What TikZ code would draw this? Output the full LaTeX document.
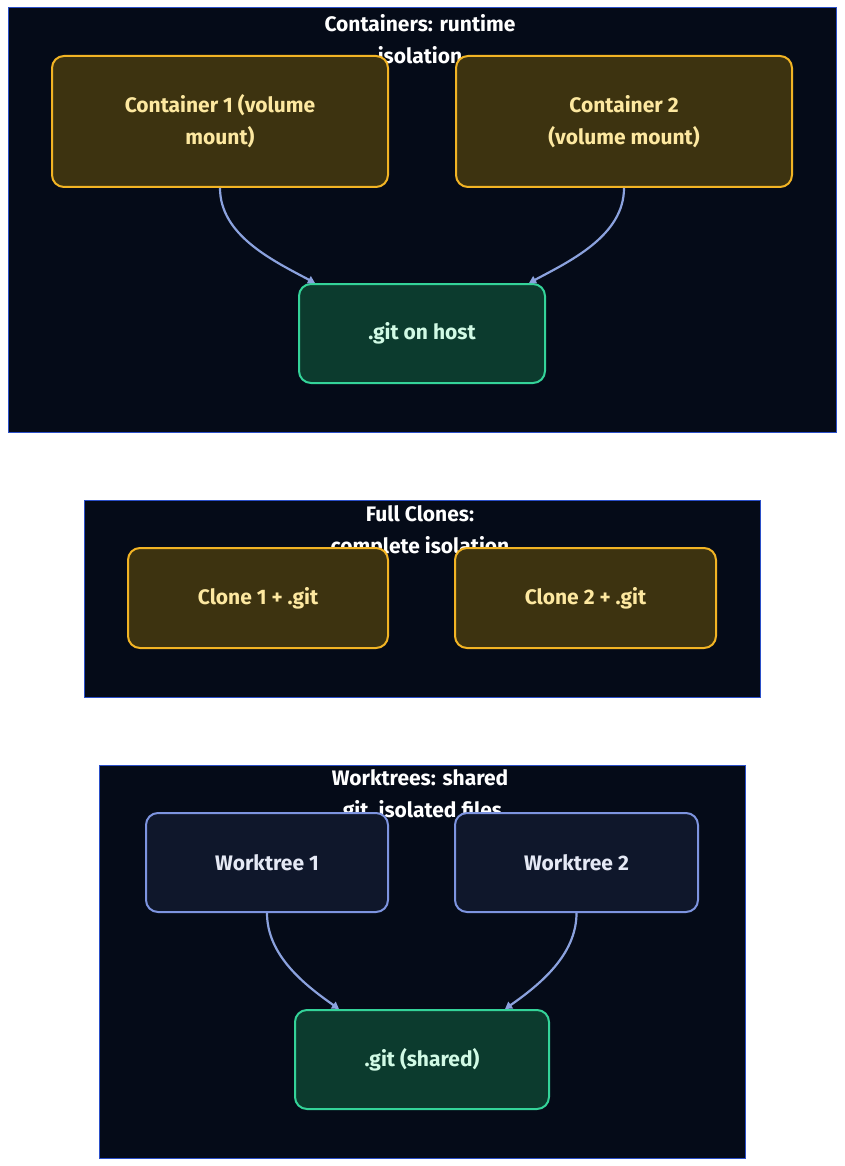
\documentclass[tikz,border=0pt]{standalone}
\usepackage{fontspec}
\setmainfont{Fira Sans}
\usetikzlibrary{arrows.meta}
\definecolor{framebg}{HTML}{050B18}
\definecolor{frameline}{HTML}{2B4FC8}
\definecolor{ctrfill}{HTML}{3D3310}
\definecolor{ctrline}{HTML}{F2B424}
\definecolor{ctrtext}{HTML}{FDE8A0}
\definecolor{gitfill}{HTML}{0C3B2E}
\definecolor{gitline}{HTML}{34D399}
\definecolor{gittext}{HTML}{D1FAE5}
\definecolor{wtfill}{HTML}{0F172B}
\definecolor{wtline}{HTML}{7D94E0}
\definecolor{wttext}{HTML}{E5E9F5}
\definecolor{linkcol}{HTML}{8BA2DE}
\begin{document}
\begin{tikzpicture}[x=1pt,y=-1pt,
  frame/.style = {draw=frameline,fill=framebg,line width=1pt},
  title/.style = {text=white,align=center,font=\bfseries\fontsize{21}{32}\selectfont},
  box/.style = {rounded corners=12pt,line width=2pt,align=center,
    font=\bfseries\fontsize{21}{32}\selectfont,inner sep=0pt},
  ctr/.style = {box,draw=ctrline,fill=ctrfill,text=ctrtext},
  gitbox/.style = {box,draw=gitline,fill=gitfill,text=gittext},
  wt/.style = {box,draw=wtline,fill=wtfill,text=wttext},
  link/.style = {draw=linkcol,line width=2.2pt,-{Triangle[length=7pt,width=8pt]}}]
\useasboundingbox (0,0) rectangle (844,1166);
\fill[white] (0,0) rectangle (844,1166);
% containers
\draw[frame] (8,8) rectangle (836,432);
\node (t1) at (420,39) [title] {Containers: runtime\\isolation};
\node (c1) at (220,121.5) [ctr,minimum width=336pt,minimum height=131pt] {Container 1 (volume\\mount)};
\node (c2) at (624,121.5) [ctr,minimum width=336pt,minimum height=131pt] {Container 2\\(volume mount)};
\node (g1) at (422,333.5) [gitbox,minimum width=246pt,minimum height=99pt] {.git on host};
\draw[link] (c1.south) to[out=-90,in=152,looseness=0.9] ([xshift=-107pt]g1.north);
\draw[link] (c2.south) to[out=-90,in=28,looseness=0.9] ([xshift=107pt]g1.north);
% full clones
\draw[frame] (84,500) rectangle (760,697);
\node (t2) at (420,532) [title] {Full Clones:\\complete isolation};
\node (k1) at (258,598) [ctr,minimum width=260pt,minimum height=100pt] {Clone 1 + .git};
\node (k2) at (585.5,598) [ctr,minimum width=261pt,minimum height=100pt] {Clone 2 + .git};
% worktrees
\draw[frame] (99,765) rectangle (745,1158);
\node (t3) at (420,796) [title] {Worktrees: shared\\.git, isolated files};
\node (w1) at (267,862.5) [wt,minimum width=242pt,minimum height=99pt] {Worktree 1};
\node (w2) at (576.5,862.5) [wt,minimum width=243pt,minimum height=99pt] {Worktree 2};
\node (g2) at (422,1059.5) [gitbox,minimum width=254pt,minimum height=99pt] {.git (shared)};
\draw[link] (w1.south) to[out=-90,in=145,looseness=0.9] ([xshift=-83pt]g2.north);
\draw[link] (w2.south) to[out=-90,in=35,looseness=0.9] ([xshift=83pt]g2.north);
\end{tikzpicture}
\end{document}
